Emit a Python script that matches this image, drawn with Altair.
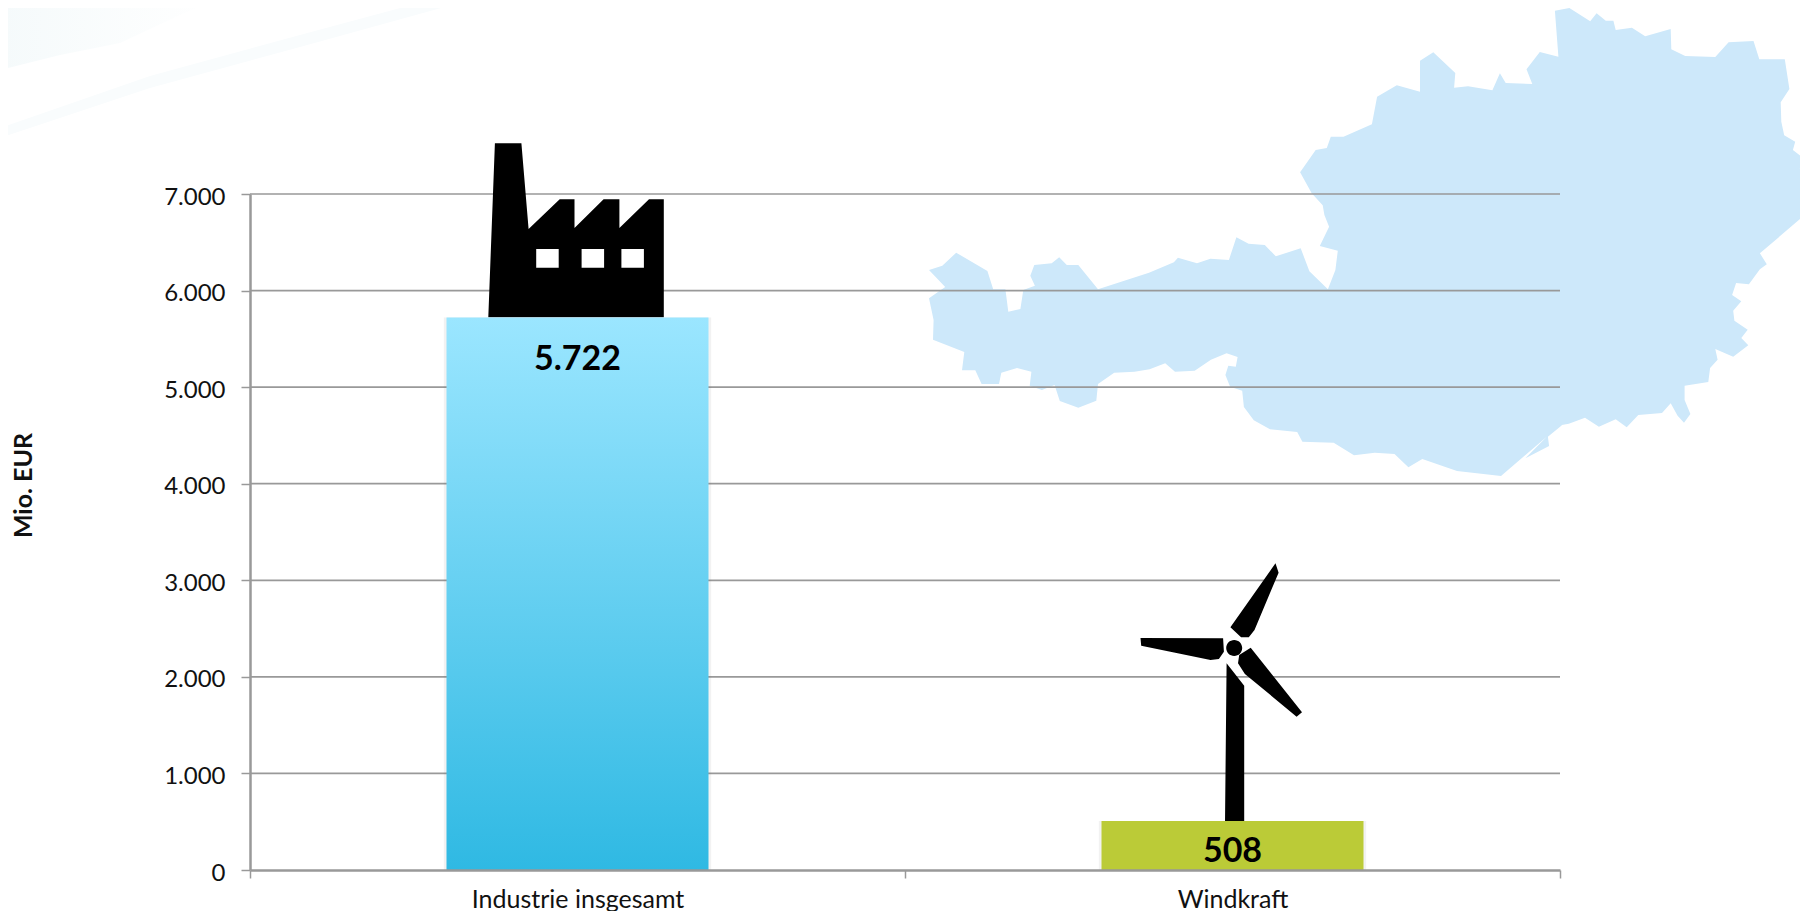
import altair as alt
import pandas as pd

categories = ["Industrie insgesamt", "Windkraft"]
values = [5722, 508]
value_labels = ["5.722", "508"]
y_ticks = [0, 1000, 2000, 3000, 4000, 5000, 6000, 7000]

FONT = "Lato"
AXIS = "#999999"

# Plot area in the page
PX0, PY0, PW, PH = 250, 194, 1310, 676

map_outline = [(1131,32),(1156,24),(1192,64),(1203,40),(1219,62),(1232,62),(1236,90),(1264,83),(1287,109),(1331,87),(1332,148),(1356,168),(1408,171),(1431,127),(1474,123),(1484,178),(1528,178),(1536,267),(1521,307),(1522,365),(1527,406),(1546,425),(1542,450),(1561,476),(1554,506),(1564,553),(1566,640),(1485,760),(1497,793),(1485,808),(1466,853),(1444,849),(1437,885),(1453,904),(1439,932),(1441,962),(1464,989),(1453,1014),(1465,1036),(1439,1070),(1408,1047),(1412,1079),(1399,1104),(1396,1146),(1355,1157),(1355,1200),(1365,1242),(1354,1268),(1343,1247),(1331,1210),(1316,1239),(1275,1245),(1255,1282),(1236,1258),(1207,1280),(1183,1253),(1155,1271),(1143,1275),(1188,1205),(1141,1279),(1119,1310),(1121,1338),(1080,1375),(1117,1310),(1038,1428),(962,1413),(902,1377),(878,1402),(854,1362),(820,1358),(784,1366),(749,1328),(695,1325),(686,1296),(639,1288),(611,1261),(594,1221),(591,1172),(570,1160),(562,1125),(567,1097),(580,1100),(583,1071),(564,1060),(537,1079),(509,1112),(475,1115),(458,1090),(431,1108),(405,1115),(370,1118),(342,1152),(339,1202),(308,1223),(276,1203),(267,1155),(245,1170),(224,1157),(227,1115),(202,1104),(175,1118),(171,1152),(141,1152),(130,1111),(107,1111),(111,1056),(57,1019),(58,960),(50,895),(78,861),(50,810),(73,797),(97,758),(151,813),(161,868),(182,868),(187,935),(208,927),(213,870),(233,857),(225,827),(232,795),(262,790),(275,772),(288,795),(308,795),(342,868),(430,818),(473,787),(480,773),(513,790),(536,776),(568,780),(581,712),(602,731),(630,735),(649,769),(692,745),(707,814),(739,868),(752,810),(756,752),(725,738),(741,680),(733,645),(730,616),(711,580),(691,517),(718,450),(737,444),(744,410),(766,410),(815,373),(824,290),(858,256),(898,275),(898,182),(921,157),(959,219),(957,263),(981,259),(1023,271),(1036,220),(1046,249),(1092,252),(1082,208),(1105,156),(1137,170)]

factory_body = [(957,652),(970,130),(1022,130),(1036,387),(1097,298),(1126,298),(1126,384),(1183,298),(1214,298),(1214,384),(1272,298),(1301,298),(1301,652)]
factory_windows = [
    [(1051,447),(1051,503),(1095,503),(1095,447)],
    [(1140,447),(1140,503),(1184,503),(1184,447)],
    [(1218,447),(1218,503),(1262,503),(1262,447)],
]

turbine_parts = [
    [(592,430),(638,497),(638,908),(588,908)],
    [(602,322),(720,130),(728,158),(665,330),(650,352),(630,352)],
    [(583,355),(367,354),(369,377),(550,420),(572,417),(585,395)],
    [(655,383),(789,577),(775,590),(640,462),(622,430),(625,405)],
]
turbine_hub = (612, 384)

swoosh_wide = [(0,0),(215,0),(180,15),(120,43),(60,55),(0,70)]
swoosh_thin = [(470,0),(300,47),(150,88),(0,138),(0,128),(150,76),(300,35),(430,0)]


def to_path(pts, conv, ox, oy):
    out = []
    for i, p in enumerate(pts):
        x, y = conv(p)
        out.append(f"{'M' if i == 0 else 'L'}{x - ox:.1f},{y - oy:.1f}")
    return "".join(out) + "Z"


conv_map = lambda p: (900 + p[0] / 1.727, p[1] / 3)
conv_fac = lambda p: (p[0] / 1.96, 100 + p[1] / 3)
conv_tur = lambda p: (1000 + p[0] / 2.613, 520 + p[1] / 3)
conv_bg = lambda p: (p[0], p[1])

map_path = to_path(map_outline, conv_map, PX0, PY0)
bg1_path = to_path(swoosh_wide, conv_bg, PX0, PY0)
bg2_path = to_path(swoosh_thin, conv_bg, PX0, PY0)

FAC_CX, FAC_TOP = 577.5, 317.4
factory_path = to_path(factory_body, conv_fac, FAC_CX, FAC_TOP) + "".join(
    to_path(w, conv_fac, FAC_CX, FAC_TOP) for w in factory_windows)

TUR_CX, TUR_TOP = 1232.5, 821
turbine_path = "".join(to_path(t, conv_tur, TUR_CX, TUR_TOP) for t in turbine_parts)
hx, hy = conv_tur(turbine_hub)
hx -= TUR_CX
hy -= TUR_TOP
turbine_path += f"M{hx-8:.1f},{hy:.1f}A8,8 0 1,0 {hx+8:.1f},{hy:.1f}A8,8 0 1,0 {hx-8:.1f},{hy:.1f}Z"

df = pd.DataFrame({"cat": categories, "val": values, "lab": value_labels})
ticks_df = pd.DataFrame({"val": y_ticks[1:]})
anchor = pd.DataFrame({"a": [0]})

x_enc = alt.X("cat:N", sort=categories,
              scale=alt.Scale(domain=categories, paddingInner=0, paddingOuter=0),
              axis=alt.Axis(title=None, labelAngle=0, tickBand="extent", tickSize=8,
                            tickColor=AXIS, tickWidth=1.5, domainColor=AXIS, domainWidth=2.5,
                            labelFont=FONT, labelFontSize=25, labelColor="#111111",
                            labelPadding=9, labelLimit=500, grid=False, zindex=1))
y_axis = alt.Axis(title="Mio. EUR", values=y_ticks, grid=False, tickSize=9,
                  tickColor=AXIS, tickWidth=1.5, domainColor=AXIS, domainWidth=2.5,
                  labelExpr="replace(format(datum.value, ',d'), ',', '.')",
                  labelFont=FONT, labelFontSize=24, labelColor="#111111",
                  labelPadding=16, labelOffset=3,
                  titleFont=FONT, titleFontSize=25, titleFontWeight="bold",
                  titleColor="#111111", titleX=-219, titleY=291,
                  titleBaseline="alphabetic", zindex=1)
y_enc = alt.Y("val:Q", scale=alt.Scale(domain=[0, 7000], nice=False), axis=y_axis)


def backdrop(path, colour):
    return alt.Chart(anchor).mark_point(shape=path, filled=True, size=4, opacity=1,
                                        color=colour, strokeWidth=0).encode(
        x=alt.value(0), y=alt.value(0))


grid = alt.Chart(ticks_df).mark_rule(color=AXIS, strokeWidth=1.7).encode(y=y_enc)

base = alt.Chart(df).encode(x=x_enc, y=y_enc)

shadow = base.mark_bar(width=alt.RelativeBandSize(band=0.408), color="#555555", opacity=0.08)
bar_ind = base.transform_filter(alt.datum.cat == categories[0]).mark_bar(
    width=alt.RelativeBandSize(band=0.4),
    color=alt.Gradient(gradient="linear",
                       stops=[alt.GradientStop(color="#9BE6FF", offset=0),
                              alt.GradientStop(color="#2FB9E3", offset=1)],
                       x1=0, x2=0, y1=0, y2=1))
bar_wind = base.transform_filter(alt.datum.cat == categories[1]).mark_bar(
    width=alt.RelativeBandSize(band=0.4), color="#BBCB37")

icon_fac = base.transform_filter(alt.datum.cat == categories[0]).mark_point(
    shape=factory_path, filled=True, size=4, opacity=1, color="#000000", strokeWidth=0)
icon_tur = base.transform_filter(alt.datum.cat == categories[1]).mark_point(
    shape=turbine_path, filled=True, size=4, opacity=1, color="#000000", strokeWidth=0)

text_kw = dict(font=FONT, fontWeight="bold", fontSize=34, color="#000000", baseline="middle")
txt_ind = base.transform_filter(alt.datum.cat == categories[0]).mark_text(dy=43, **text_kw).encode(text="lab:N")
txt_wind = base.transform_filter(alt.datum.cat == categories[1]).mark_text(dy=31, **text_kw).encode(text="lab:N")

swoosh_fill = alt.Gradient(gradient="linear",
                           stops=[alt.GradientStop(color="#F5FAFB", offset=0),
                                  alt.GradientStop(color="#FFFFFF", offset=1)],
                           x1=0, x2=1, y1=0, y2=0)

chart = alt.layer(
    backdrop(bg1_path, swoosh_fill),
    backdrop(bg2_path, "#F9FCFD"),
    backdrop(map_path, "#CDE8FA"),
    grid,
    shadow,
    icon_fac,
    icon_tur,
    bar_ind,
    bar_wind,
    txt_ind,
    txt_wind,
).resolve_scale(y="shared", x="shared").properties(
    width=PW,
    height=PH,
    autosize=alt.AutoSizeParams(type="none"),
    padding={"left": PX0 - 8, "top": PY0 - 8, "right": 1792 - (PX0 - 8) - PW, "bottom": 903 - (PY0 - 8) - PH},
    background="#FFFFFF",
).configure_view(stroke=None)

chart.save("out.html", embed_options={"renderer": "svg", "actions": False})
